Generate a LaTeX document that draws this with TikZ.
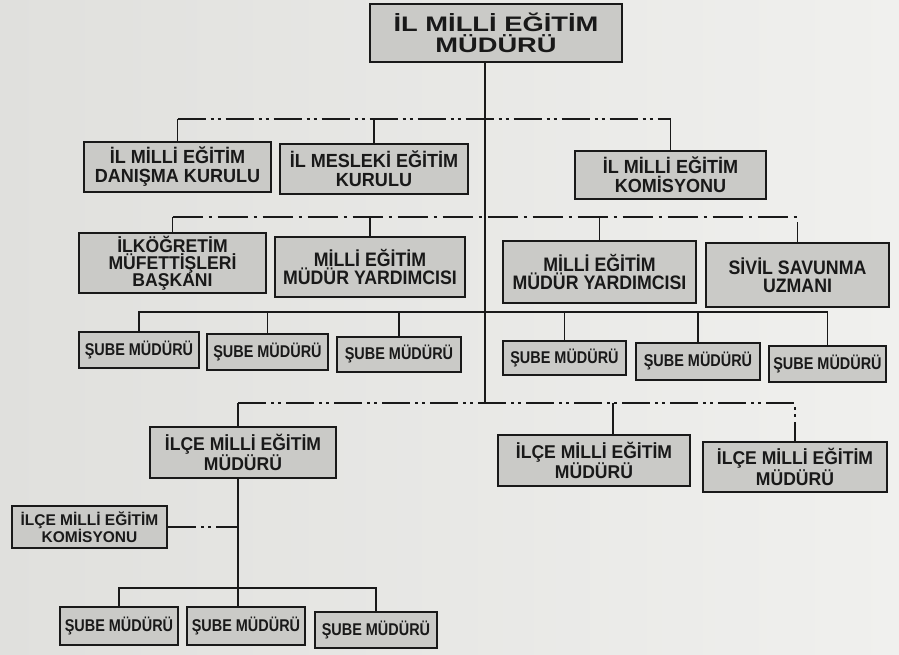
\documentclass[tikz,border=0pt]{standalone}
\usepackage{fontspec}
\setmainfont{Liberation Sans}
\newfontfamily\ftop[FakeStretch=1.3]{Liberation Sans}
\newfontfamily\fmid[FakeStretch=0.95]{Liberation Sans}
\newfontfamily\fmidc[FakeStretch=0.91]{Liberation Sans}
\newfontfamily\fsube[FakeStretch=0.85]{Liberation Sans}
\newfontfamily\fkom[FakeStretch=1.0]{Liberation Sans}
\definecolor{bgl}{RGB}{224,224,221}
\definecolor{bgr}{RGB}{240,240,238}
\definecolor{boxc}{RGB}{202,202,199}
\definecolor{ink}{RGB}{25,25,25}
\begin{document}
\begin{tikzpicture}[x=1pt,y=-1pt,
  ubox/.style={draw=ink, fill=boxc, line width=2.8pt, inner sep=0pt, align=center, text=ink},
  conn/.style={draw=ink, line width=1.9pt},
  ddot/.style={conn, dash pattern=on 28pt off 5pt on 3pt off 4pt on 3pt off 5pt},
  dsing/.style={conn, dash pattern=on 30pt off 6pt on 3pt off 6pt},
  ttop/.style={font=\ftop\bfseries\fontsize{21}{20.5}\selectfont},
  tmid/.style={font=\fmid\bfseries\fontsize{19}{19}\selectfont},
  tmy/.style={font=\fmidc\bfseries\fontsize{19.5}{18.5}\selectfont},
  tmidc/.style={font=\fmid\bfseries\fontsize{18.5}{17}\selectfont},
  tilce/.style={font=\fmid\bfseries\fontsize{18.5}{17.5}\selectfont},
  tsube/.style={font=\fsube\bfseries\fontsize{17}{17}\selectfont},
  tkom/.style={font=\fkom\bfseries\fontsize{15.5}{15}\selectfont}
]
\useasboundingbox (0,0) rectangle (899,655);
\shade[left color=bgl, right color=bgr] (0,0) rectangle (899,655);

% top
\node[ubox, ttop, minimum width=252pt, minimum height=58pt] (top) at (496,33) {İL MİLLİ EĞİTİM\\MÜDÜRÜ};

% row 2
\node[ubox, tmid, minimum width=187pt, minimum height=50pt] (A) at (177.5,167) {İL MİLLİ EĞİTİM\\DANIŞMA KURULU};
\node[ubox, tmid, minimum width=188pt, minimum height=50pt] (B) at (374,169) {İL MESLEKİ EĞİTİM\\KURULU};
\node[ubox, tmid, minimum width=191pt, minimum height=48pt] (C) at (670.5,175) {İL MİLLİ EĞİTİM\\KOMİSYONU};

% row 3
\node[ubox, tmidc, minimum width=187pt, minimum height=60pt] (D) at (172.5,263) {İLKÖĞRETİM\\MÜFETTİŞLERİ\\BAŞKANI};
\node[ubox, tmy, minimum width=190pt, minimum height=60pt] (E) at (370,267) {MİLLİ EĞİTİM\\MÜDÜR YARDIMCISI};
\node[ubox, tmy, minimum width=193pt, minimum height=62pt] (F) at (599.5,272) {MİLLİ EĞİTİM\\MÜDÜR YARDIMCISI};
\node[ubox, tmy, minimum width=183pt, minimum height=64pt] (G) at (797.5,275) {SİVİL SAVUNMA\\UZMANI};

% row 4
\node[ubox, tsube, minimum width=120pt, minimum height=36pt] (S1) at (139,350) {ŞUBE MÜDÜRÜ};
\node[ubox, tsube, minimum width=121pt, minimum height=36pt] (S2) at (267.5,352) {ŞUBE MÜDÜRÜ};
\node[ubox, tsube, minimum width=124pt, minimum height=35pt] (S3) at (399,354.5) {ŞUBE MÜDÜRÜ};
\node[ubox, tsube, minimum width=123pt, minimum height=34pt] (S4) at (564.5,358) {ŞUBE MÜDÜRÜ};
\node[ubox, tsube, minimum width=124pt, minimum height=37pt] (S5) at (698,361.5) {ŞUBE MÜDÜRÜ};
\node[ubox, tsube, minimum width=117pt, minimum height=36pt] (S6) at (827.5,364) {ŞUBE MÜDÜRÜ};

% row 5
\node[ubox, tilce, minimum width=186pt, minimum height=51pt] (I1) at (243,452.5) {İLÇE MİLLİ EĞİTİM\\MÜDÜRÜ};
\node[ubox, tilce, minimum width=192pt, minimum height=51pt] (I2) at (594,460.5) {İLÇE MİLLİ EĞİTİM\\MÜDÜRÜ};
\node[ubox, tilce, minimum width=184pt, minimum height=50pt] (I3) at (795,467) {İLÇE MİLLİ EĞİTİM\\MÜDÜRÜ};
\node[ubox, tkom, minimum width=155pt, minimum height=42pt] (K) at (89.5,527) {İLÇE MİLLİ EĞİTİM\\KOMİSYONU};

% row 6
\node[ubox, tsube, minimum width=118pt, minimum height=38pt] (B1) at (119,626) {ŞUBE MÜDÜRÜ};
\node[ubox, tsube, minimum width=118pt, minimum height=38pt] (B2) at (246,626) {ŞUBE MÜDÜRÜ};
\node[ubox, tsube, minimum width=122pt, minimum height=36pt] (B3) at (376,630) {ŞUBE MÜDÜRÜ};

% helper coordinates
\coordinate (tx) at (485,0);
\coordinate (l1) at (0,119);
\coordinate (l2) at (0,217);
\coordinate (l4) at (0,312);
\coordinate (j3) at (238,403);
\coordinate (j2) at (613,403);
\coordinate (l5) at (0,588);

% trunk
\draw[conn] (top.south -| tx) -- (tx |- j3);

% line 1
\draw[ddot] (A.north |- l1) -- (C.north |- l1);
\draw[conn] (A.north) -- (A.north |- l1);
\draw[conn] (B.north) -- (B.north |- l1);
\draw[conn] (C.north) -- (C.north |- l1);

% line 2
\draw[dsing] (D.north |- l2) -| (G.north);
\draw[conn] (D.north) -- (D.north |- l2);
\draw[conn] (E.north) -- (E.north |- l2);
\draw[conn] (F.north) -- (F.north |- l2);

% sube line
\draw[conn] (S1.north) |- (S6.north |- l4) -- (S6.north);
\draw[conn] (S2.north) -- (S2.north |- l4);
\draw[conn] (S3.north) -- (S3.north |- l4);
\draw[conn] (S4.north) -- (S4.north |- l4);
\draw[conn] (S5.north) -- (S5.north |- l4);

% line 3
\draw[ddot] (j3) -| (I3.north);
\draw[conn] (I1.north -| j3) -- (j3);
\draw[conn] (j2) -- (I2.north -| j2);

% ilce trunk
\draw[conn] (I1.south -| j3) -- (B2.north -| j3);
\draw[ddot] (K.east) -- (K.east -| j3);
\draw[conn] (B1.north) |- (B3.north |- l5) -- (B3.north);
\end{tikzpicture}
\end{document}
